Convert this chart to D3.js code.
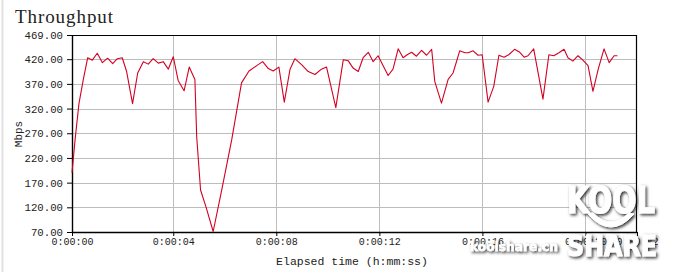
<!DOCTYPE html>
<html>
<head>
<meta charset="utf-8">
<script src="https://cdn.jsdelivr.net/npm/d3@7/dist/d3.min.js"></script>
<style>
  body { margin: 0; background: #fff; }
  svg { display: block; }
</style>
</head>
<body>
<svg id="chart" width="673" height="272"></svg>
<script>
// elapsed time (s) of each timing record and its throughput (Mbps)
const times = [0.07, 0.19, 0.34, 0.51, 0.68, 0.86, 1.05, 1.25, 1.45, 1.65, 1.83, 2.02, 2.19, 2.42, 2.62,
    2.84, 3.03, 3.22, 3.42, 3.61, 3.81, 4.00, 4.19, 4.42, 4.62, 4.84, 4.91, 5.06, 5.27, 5.55, 5.88,
    6.27, 6.65, 6.94, 7.24, 7.47, 7.69, 7.88, 8.10, 8.31, 8.53, 8.72, 8.98, 9.24, 9.50, 9.73, 9.95,
    10.31, 10.60, 10.79, 10.98, 11.18, 11.37, 11.57, 11.76, 11.95, 12.34, 12.53, 12.73, 12.92, 13.08,
    13.25, 13.44, 13.64, 13.83, 14.03, 14.15, 14.41, 14.67, 14.86, 15.12, 15.32, 15.45, 15.64, 15.83,
    15.99, 16.22, 16.44, 16.64, 16.84, 17.02, 17.25, 17.45, 17.62, 17.77, 17.99, 18.35, 18.58, 18.77,
    18.97, 19.17, 19.32, 19.51, 19.71, 19.90, 20.10, 20.29, 20.49, 20.72, 20.92, 21.11, 21.24];

const mbps = [190, 257, 330, 379, 423, 418, 432, 413, 422, 411, 421, 423, 395, 330, 392,
    415, 410, 421, 412, 415, 400, 425, 377, 356, 404, 379, 263, 155, 121, 71, 155,
    257, 372, 396, 407, 415, 401, 396, 404, 333, 399, 421, 409, 395, 389, 399, 404,
    322, 419, 417, 402, 395, 423, 434, 415, 427, 387, 400, 441, 423, 429,
    434, 426, 438, 428, 440, 375, 331, 379, 392, 437, 433, 433, 437, 428,
    429, 333, 365, 428, 424, 429, 440, 434, 424, 427, 441, 339, 429, 427,
    433, 440, 423, 416, 427, 418, 407, 355, 399, 441, 413, 427, 427];

const yTicks = [70, 120, 170, 220, 270, 320, 370, 420, 469];
const xTicks = [0.07, 4, 8, 12, 16, 20, 22];
const xGridTicks = [4, 8, 12, 16, 20];

const svg = d3.select('#chart');
const width = +svg.attr('width');
const height = +svg.attr('height');
const margin = { top: 35, right: 36, bottom: 40, left: 72 };
const innerWidth = width - margin.left - margin.right;
const innerHeight = height - margin.top - margin.bottom;

const monoFont = '"Liberation Mono", "DejaVu Sans Mono", monospace';

// faint frame on the left edge of the screenshot
svg.append('line')
    .attr('x1', 2.5).attr('x2', 2.5)
    .attr('y1', 0).attr('y2', height)
    .attr('stroke', '#e2e2e2')
    .attr('stroke-width', 2);

svg.append('text')
    .attr('x', 15)
    .attr('y', 23)
    .attr('font-family', '"Liberation Serif", "DejaVu Serif", serif')
    .attr('font-size', '19px')
    .attr('textLength', 98)
    .attr('fill', '#222')
    .text('Throughput');

const g = svg.append('g')
    .attr('transform', `translate(${margin.left},${margin.top})`);

const x = d3.scaleLinear()
    .domain([xTicks[0], 22])
    .range([0, innerWidth]);

const y = d3.scaleLinear()
    .domain([70, 469])
    .range([innerHeight, 0]);

// grid
g.append('g')
    .selectAll('line')
    .data(yTicks.slice(1, -1))
    .join('line')
    .attr('x1', 0).attr('x2', innerWidth)
    .attr('y1', d => Math.round(y(d)) + 0.5)
    .attr('y2', d => Math.round(y(d)) + 0.5)
    .attr('stroke', '#bdbdbd');

g.append('g')
    .selectAll('line')
    .data(xGridTicks)
    .join('line')
    .attr('x1', d => Math.round(x(d)) + 0.5)
    .attr('x2', d => Math.round(x(d)) + 0.5)
    .attr('y1', 0).attr('y2', innerHeight)
    .attr('stroke', '#bdbdbd');

// axes
const fmtTime = t => `0:00:${String(Math.round(t)).padStart(2, '0')}`;

const xAxis = g.append('g')
    .attr('transform', `translate(0,${innerHeight})`)
    .call(d3.axisBottom(x).tickValues(xTicks).tickFormat(fmtTime).tickSize(4).tickPadding(2).tickSizeOuter(0));

const yAxis = g.append('g')
    .call(d3.axisLeft(y).tickValues(yTicks).tickFormat(d3.format('.2f')).tickSize(5).tickPadding(4).tickSizeOuter(0));

[xAxis, yAxis].forEach(ax => {
    ax.selectAll('.domain').attr('stroke', '#000').attr('stroke-width', 1.4);
    ax.selectAll('.tick line').attr('stroke', '#000');
    ax.selectAll('text')
        .attr('fill', '#222')
        .attr('font-family', monoFont);
});
xAxis.selectAll('text').attr('font-size', '10px');
yAxis.selectAll('text').attr('font-size', '10.7px');

// top and right border of the plot box
g.append('path')
    .attr('d', `M0,0.5H${innerWidth - 0.5}V${innerHeight}`)
    .attr('fill', 'none')
    .attr('stroke', '#000')
    .attr('stroke-width', 1.2);

// throughput line
const line = d3.line()
    .x(i => x(times[i]))
    .y(i => y(mbps[i]));

g.append('path')
    .attr('d', line(d3.range(times.length)))
    .attr('fill', 'none')
    .attr('stroke', '#d40022')
    .attr('stroke-width', 1.1)
    .attr('stroke-linejoin', 'round');

// axis titles
svg.append('text')
    .attr('transform', 'translate(22,134) rotate(-90)')
    .attr('text-anchor', 'middle')
    .attr('font-family', monoFont)
    .attr('font-size', '11px')
    .attr('fill', '#222')
    .text('Mbps');

svg.append('text')
    .attr('x', 352)
    .attr('y', 265)
    .attr('text-anchor', 'middle')
    .attr('font-family', monoFont)
    .attr('font-size', '11.5px')
    .attr('fill', '#222')
    .text('Elapsed time (h:mm:ss)');

// watermark of the screenshot source
const defs = svg.append('defs');
defs.append('filter')
    .attr('id', 'wm-shadow')
    .attr('x', '-20%').attr('y', '-20%')
    .attr('width', '140%').attr('height', '140%')
    .append('feDropShadow')
    .attr('dx', 1.5).attr('dy', 1.5)
    .attr('stdDeviation', 1.8)
    .attr('flood-color', '#111')
    .attr('flood-opacity', 0.9);

const wm = svg.append('g')
    .attr('filter', 'url(#wm-shadow)')
    .attr('fill', '#fff')
    .attr('stroke', '#fff')
    .attr('stroke-width', 1)
    .attr('font-family', '"DejaVu Sans", sans-serif')
    .attr('font-weight', 'bold');

wm.append('text')
    .attr('x', 567).attr('y', 213)
    .attr('font-size', '38px')
    .attr('textLength', 88)
    .attr('lengthAdjust', 'spacingAndGlyphs')
    .text('KOOL');

wm.append('path')
    .attr('d', 'M588,214 Q611,240 634,214 L629,213 Q611,231 593,213 Z');

wm.append('text')
    .attr('x', 567).attr('y', 256)
    .attr('font-size', '28px')
    .attr('textLength', 90)
    .attr('lengthAdjust', 'spacingAndGlyphs')
    .text('SHARE');

wm.append('text')
    .attr('x', 470).attr('y', 251)
    .attr('font-size', '13px')
    .attr('stroke-width', 0.4)
    .attr('textLength', 88)
    .attr('lengthAdjust', 'spacingAndGlyphs')
    .text('koolshare.cn');
</script>
</body>
</html>
